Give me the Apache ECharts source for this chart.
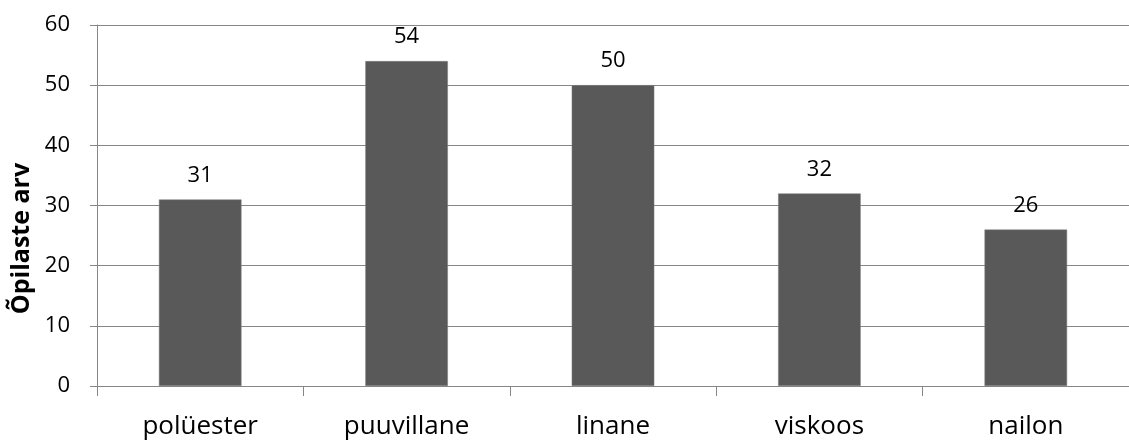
<!DOCTYPE html>
<html>
<head>
<meta charset="utf-8">
<script src="https://cdn.jsdelivr.net/npm/echarts@6/dist/echarts.min.js"></script>
<style>
  html, body { margin: 0; padding: 0; background: #fff; }
  #chart { width: 1129px; height: 441px; }
</style>
</head>
<body>
<div id="chart"></div>
<script>
// Fibre types and number of students per type
const categories = ['polüester', 'puuvillane', 'linane', 'viskoos', 'nailon'];
const students = [31, 54, 50, 32, 26];
const yTicks = [0, 10, 20, 30, 40, 50, 60];

const FONT = 'Open Sans, Lato, sans-serif';
const chart = echarts.init(document.getElementById('chart'), null, { renderer: 'canvas' });
chart.setOption({
  animation: false,
  backgroundColor: '#ffffff',
  grid: { left: 97, top: 25, width: 1040, bottom: 55, containLabel: false },
  xAxis: {
    type: 'category',
    data: categories,
    boundaryGap: true,
    axisLine: { lineStyle: { color: '#868686', width: 1 } },
    axisTick: { show: true, length: 10, alignWithLabel: false, lineStyle: { color: '#868686' } },
    axisLabel: { color: '#000', fontSize: 26, fontFamily: FONT, margin: 28 }
  },
  yAxis: {
    type: 'value',
    min: yTicks[0],
    max: yTicks[yTicks.length - 1],
    interval: 10,
    name: 'Õpilaste arv',
    nameLocation: 'middle',
    nameGap: 54,
    nameRotate: 90,
    nameTextStyle: { color: '#000', fontSize: 25, fontWeight: 'bold', fontFamily: FONT, padding: [0, 66, 0, 0] },
    axisLine: { show: true, lineStyle: { color: '#868686', width: 1 } },
    axisTick: { show: true, length: 7, lineStyle: { color: '#868686' } },
    axisLabel: { color: '#000', fontSize: 22, fontFamily: FONT, margin: 27 },
    splitLine: { show: true, lineStyle: { color: '#868686', width: 1 } }
  },
  series: [{
    type: 'bar',
    data: students,
    barWidth: '40%',
    itemStyle: { color: '#595959', borderColor: '#7f7f7f', borderWidth: 0.5 },
    label: {
      show: true,
      position: 'top',
      distance: 13,
      color: '#000',
      fontSize: 22,
      fontFamily: FONT
    }
  }]
});
</script>
</body>
</html>
